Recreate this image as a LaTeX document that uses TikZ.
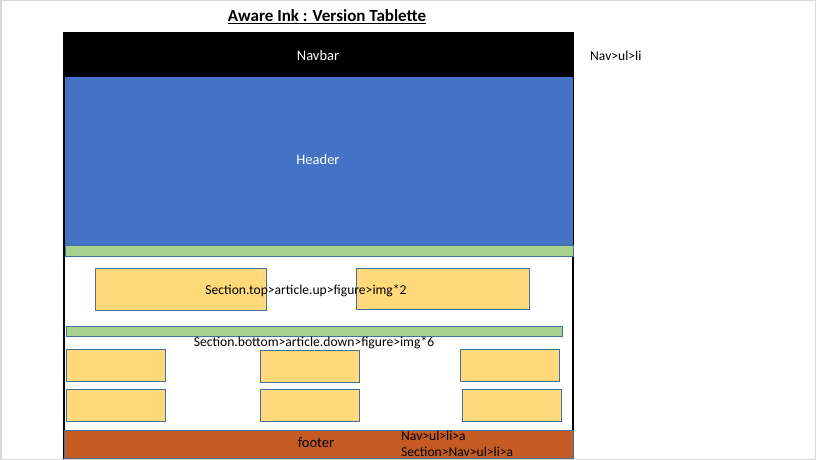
\documentclass[tikz,border=0pt]{standalone}
\usepackage{fontspec}
\setmainfont{Carlito}
\begin{document}
\begin{tikzpicture}[x=1pt,y=-1pt,
  ybox/.style={draw=boxblue,fill=yellowf,line width=1pt},
  gbar/.style={draw=boxblue,fill=greenf,line width=1pt},
  lbl/.style={font=\fontsize{13.6}{15}\selectfont,inner sep=0pt}]
\definecolor{boxblue}{HTML}{41719C}
\definecolor{yellowf}{HTML}{FFD97A}
\definecolor{greenf}{HTML}{A9D18E}
\definecolor{headblue}{HTML}{4472C4}
\definecolor{footor}{HTML}{C55A22}
\definecolor{edgegray}{HTML}{D9D9D9}
\useasboundingbox (0,0) rectangle (816,460);
\draw[edgegray,line width=1.5pt] (0.75,0.75) rectangle (815.25,459.25);
% page frame
\draw[black,line width=1.2pt] (64,33) rectangle (573,458);
\node[fill=black,minimum width=509pt,minimum height=44pt,inner sep=0pt,anchor=north west] (nav) at (64,33) {};
\node[fill=headblue,minimum width=508pt,minimum height=168pt,inner sep=0pt,anchor=north west] (head) at (65,77) {};
\node[gbar,minimum width=508pt,minimum height=11pt,inner sep=0pt,anchor=north west] (g1) at (65,245) {};
\node[lbl,text=white,font=\fontsize{14.5}{17}\selectfont] (navt) at (318,56) {Navbar};
\node[lbl,text=white,font=\fontsize{14.5}{17}\selectfont] (headt) at (318,160) {Header};
\node[lbl,anchor=west] (navli) at (590,56) {Nav>ul>li};
% top section
\node[ybox,minimum width=171pt,minimum height=42pt,inner sep=0pt,anchor=north west] (t1) at (95,268) {};
\node[ybox,minimum width=173pt,minimum height=41pt,inner sep=0pt,anchor=north west] (t2) at (356,268) {};
\node[lbl] (topt) at (306,291) {Section.top>article.up>figure>img*2};
\node[gbar,minimum width=496pt,minimum height=10pt,inner sep=0pt,anchor=north west] (g2) at (66,326) {};
\node[lbl] (bott) at (314,343) {Section.bottom>article.down>figure>img*6};
% bottom section
\node[ybox,minimum width=99pt,minimum height=32pt,inner sep=0pt,anchor=north west] (b1) at (66,349) {};
\node[ybox,minimum width=99pt,minimum height=32pt,inner sep=0pt,anchor=north west] (b2) at (260,350) {};
\node[ybox,minimum width=99pt,minimum height=32pt,inner sep=0pt,anchor=north west] (b3) at (460,349) {};
\node[ybox,minimum width=99pt,minimum height=32pt,inner sep=0pt,anchor=north west] (b4) at (66,389) {};
\node[ybox,minimum width=99pt,minimum height=32pt,inner sep=0pt,anchor=north west] (b5) at (260,389) {};
\node[ybox,minimum width=99pt,minimum height=32pt,inner sep=0pt,anchor=north west] (b6) at (462,389) {};
% footer
\node[draw=boxblue,fill=footor,line width=1pt,minimum width=509pt,minimum height=28pt,inner sep=0pt,anchor=north west] (foot) at (64,430) {};
\node[lbl,font=\fontsize{14.5}{17}\selectfont] (foott) at (316,443) {footer};
\node[lbl,anchor=west] (fa) at (401,436) {Nav>ul>li>a};
\node[lbl,anchor=west] (fb) at (401,452) {Section>Nav>ul>li>a};
% title
\node[inner sep=0pt,font=\fontsize{17}{20}\selectfont\bfseries] (title) at (327,17) {\underline{Aware Ink : Version Tablette}};
\end{tikzpicture}
\end{document}
